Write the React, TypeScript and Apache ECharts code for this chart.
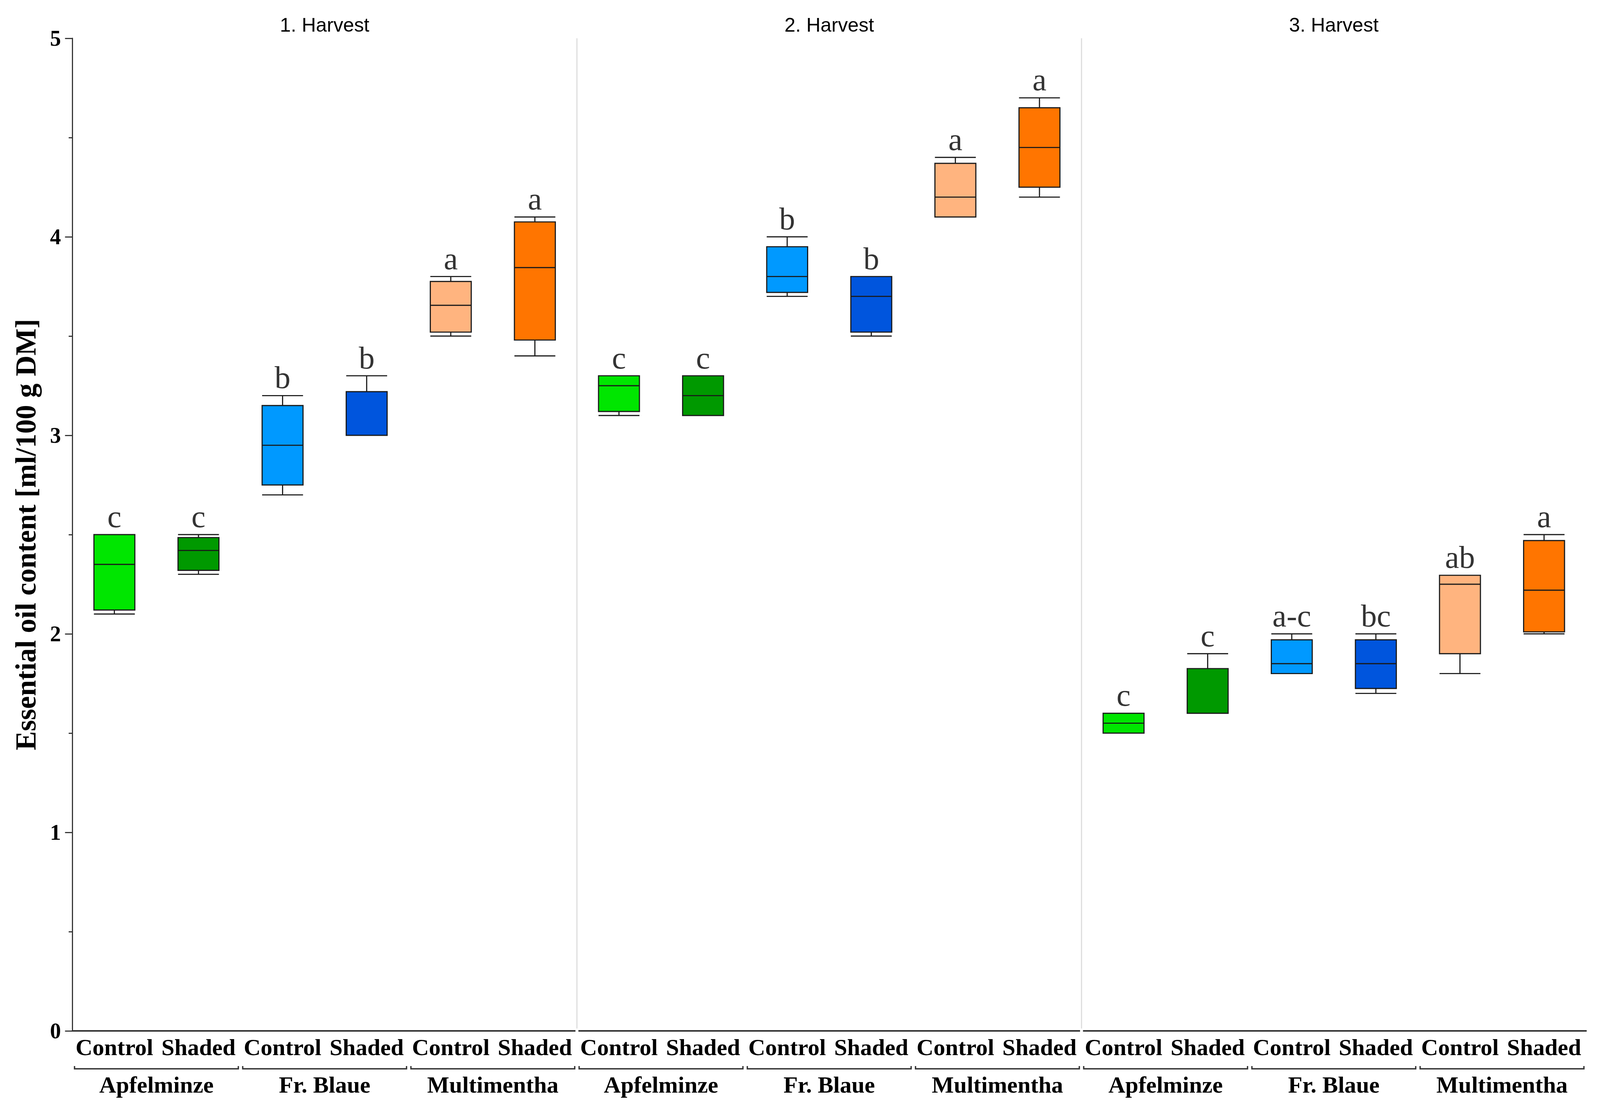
import React, { useEffect, useRef } from 'react';
import * as echarts from 'echarts';

const harvests = ['1. Harvest', '2. Harvest', '3. Harvest'];
const varieties = ['Apfelminze', 'Fr. Blaue', 'Multimentha'];
const treatments = ['Control', 'Shaded'];

// each box: [lower whisker, Q1, median, Q3, upper whisker]
const harvest1 = [
  [2.1, 2.12, 2.35, 2.5, 2.5],
  [2.3, 2.32, 2.42, 2.485, 2.5],
  [2.7, 2.75, 2.95, 3.15, 3.2],
  [3.0, 3.0, 3.22, 3.22, 3.3],
  [3.5, 3.52, 3.655, 3.775, 3.8],
  [3.4, 3.48, 3.845, 4.075, 4.1],
];
const harvest2 = [
  [3.1, 3.12, 3.25, 3.3, 3.3],
  [3.1, 3.1, 3.2, 3.3, 3.3],
  [3.7, 3.72, 3.8, 3.95, 4.0],
  [3.5, 3.52, 3.7, 3.8, 3.8],
  [4.1, 4.1, 4.2, 4.37, 4.4],
  [4.2, 4.25, 4.45, 4.65, 4.7],
];
const harvest3 = [
  [1.5, 1.5, 1.55, 1.6, 1.6],
  [1.6, 1.6, 1.6, 1.825, 1.9],
  [1.8, 1.8, 1.85, 1.97, 2.0],
  [1.7, 1.725, 1.85, 1.97, 2.0],
  [1.8, 1.9, 2.25, 2.295, 2.295],
  [2.0, 2.01, 2.22, 2.47, 2.5],
];
const letters1 = ['c', 'c', 'b', 'b', 'a', 'a'];
const letters2 = ['c', 'c', 'b', 'b', 'a', 'a'];
const letters3 = ['c', 'c', 'a-c', 'bc', 'ab', 'a'];

const yTicks = { min: 0, max: 5, interval: 1 };
const yTitle = 'Essential oil content [ml/100 g DM]';

const boxColors = ['#00e600', '#009900', '#0099ff', '#0055dd', '#ffb47f', '#ff7500'];

const categories = harvests.flatMap(() => varieties.flatMap(() => treatments));
const groupLabels = harvests.flatMap(() => varieties);
const boxes = [...harvest1, ...harvest2, ...harvest3];
const letters = [...letters1, ...letters2, ...letters3];
const separatorIdx = [5, 11];
const groupStarts = groupLabels.map((_, g) => g * 2);

const SERIF = 'Liberation Serif';
const SANS = 'Liberation Sans';
const REF_W = 4380;
const REF_H = 2843;

export default function App() {
  const ref = useRef<HTMLDivElement>(null);
  const W = window.innerWidth;
  const H = window.innerHeight;
  useEffect(() => {
    if (!ref.current) return;
    const sx = W / REF_W;
    const sy = H / REF_H;
    const sf = Math.sqrt(sx * sy);
    const px = (v: number) => v * sx;
    const py = (v: number) => v * sy;
    const f = (v: number) => v * sf;
    const chart = echarts.init(ref.current, null, { renderer: 'svg' });
    chart.setOption({
      animation: false,
      backgroundColor: '#ffffff',
      grid: { left: px(198), right: px(38), top: py(98), bottom: py(205) },
      xAxis: [
        {
          type: 'category',
          position: 'bottom',
          data: categories,
          axisLine: { show: true, lineStyle: { color: '#333', width: f(4) } },
          axisTick: { show: false },
          axisLabel: {
            interval: 0,
            margin: py(12),
            fontFamily: SERIF,
            fontWeight: 'bold',
            fontSize: f(62),
            color: '#000',
          },
          splitLine: { show: false },
        },
        {
          type: 'category',
          position: 'bottom',
          data: groupLabels,
          axisLine: { show: false },
          axisTick: { show: false },
          axisLabel: {
            interval: 0,
            margin: py(108),
            fontFamily: SERIF,
            fontWeight: 'bold',
            fontSize: f(62),
            color: '#000',
          },
          splitLine: { show: false },
        },
        {
          type: 'category',
          position: 'top',
          data: harvests,
          axisLine: { show: false },
          axisTick: { show: false },
          axisLabel: {
            interval: 0,
            margin: py(10),
            fontFamily: SANS,
            fontSize: f(52),
            color: '#000',
          },
          splitLine: { show: false },
        },
      ],
      yAxis: {
        type: 'value',
        min: yTicks.min,
        max: yTicks.max,
        interval: yTicks.interval,
        name: yTitle,
        nameLocation: 'middle',
        nameRotate: 90,
        nameGap: px(88),
        nameTextStyle: {
          fontFamily: SERIF,
          fontWeight: 'bold',
          fontSize: f(76),
          color: '#000',
        },
        axisLine: { show: true, lineStyle: { color: '#333', width: f(3) } },
        axisTick: { show: true, length: px(20), lineStyle: { color: '#333', width: f(3) } },
        minorTick: { show: true, splitNumber: 2, length: px(10), lineStyle: { color: '#333', width: f(3) } },
        axisLabel: {
          margin: px(31),
          fontFamily: SERIF,
          fontWeight: 'bold',
          fontSize: f(58),
          color: '#000',
        },
        splitLine: { show: false },
      },
      series: [
        {
          type: 'custom',
          xAxisIndex: 0,
          yAxisIndex: 0,
          clip: false,
          silent: true,
          z: 1,
          data: separatorIdx.map((v) => [v, 0]),
          renderItem: (params: any, api: any) => {
            const idx = api.value(0);
            const w = api.size([1, 0])[0];
            const top = api.coord([idx, yTicks.max]);
            const bot = api.coord([idx, 0]);
            const x = top[0] + w / 2;
            return {
              type: 'group',
              children: [
                {
                  type: 'line',
                  shape: { x1: x, y1: top[1], x2: x, y2: bot[1] - py(6) },
                  style: { stroke: '#dcdcdc', lineWidth: f(3) },
                },
                {
                  type: 'line',
                  shape: { x1: x - px(4), y1: bot[1], x2: x + px(4), y2: bot[1] },
                  style: { stroke: '#ffffff', lineWidth: f(8) },
                },
              ],
            };
          },
        },
        {
          type: 'custom',
          xAxisIndex: 0,
          yAxisIndex: 0,
          clip: false,
          silent: true,
          z: 1,
          data: groupStarts.map((st) => [st, 0]),
          renderItem: (params: any, api: any) => {
            const st = api.value(0);
            const w = api.size([1, 0])[0];
            const c0 = api.coord([st, 0]);
            const c1 = api.coord([st + 1, 0]);
            const x1 = c0[0] - w / 2 + px(6);
            const x2 = c1[0] + w / 2 - px(6);
            const y = c0[1] + py(97);
            return {
              type: 'polyline',
              shape: { points: [[x1, y - py(7)], [x1, y], [x2, y], [x2, y - py(7)]] },
              style: { stroke: '#333', lineWidth: f(3.5), fill: 'none' },
            };
          },
        },
        {
          type: 'boxplot',
          xAxisIndex: 0,
          yAxisIndex: 0,
          boxWidth: [px(112), px(112)],
          z: 3,
          data: boxes.map((b, i) => ({
            value: b,
            itemStyle: { color: boxColors[i % 6], borderColor: '#1a1a1a', borderWidth: f(3) },
          })),
        },
        {
          type: 'scatter',
          xAxisIndex: 0,
          yAxisIndex: 0,
          symbolSize: 1,
          itemStyle: { color: 'rgba(0,0,0,0)' },
          silent: true,
          z: 4,
          data: boxes.map((b, i) => [i, b[4]]),
          label: {
            show: true,
            position: 'top',
            distance: py(5),
            formatter: (q: any) => letters[q.dataIndex],
            fontFamily: SERIF,
            fontSize: f(84),
            color: '#000',
          },
        },
      ],
    });
    return () => chart.dispose();
  }, [W, H]);
  return (
    <div
      ref={ref}
      style={{ position: 'absolute', left: 0, top: 0, width: W, height: H }}
    />
  );
}
